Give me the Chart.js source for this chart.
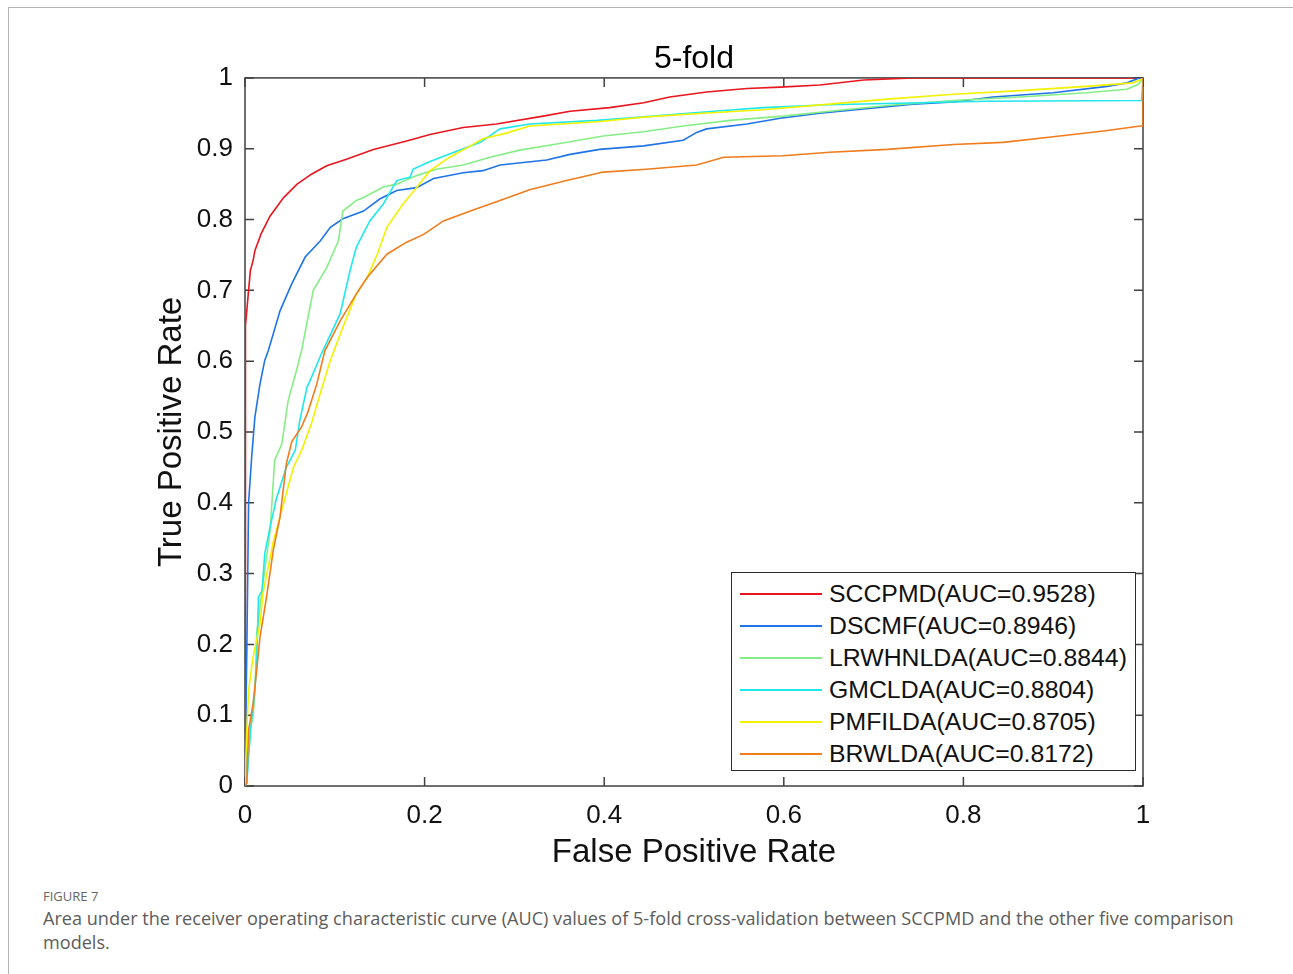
<!DOCTYPE html>
<html>
<head>
<meta charset="utf-8">
<title>5-fold ROC</title>
<script src="https://cdn.jsdelivr.net/npm/chart.js@4.4.0/dist/chart.umd.min.js"></script>
<style>
  body { margin:0; background:#fff; width:1293px; height:974px; overflow:hidden; position:relative; font-family:"Liberation Sans", Arial, sans-serif; }
  #frame { position:absolute; left:8px; top:7px; right:0; bottom:0; border-top:1px solid #b4b4b4; border-left:1px solid #b4b4b4; }
  #wrap { position:absolute; left:0; top:0; width:1293px; height:880px; }
  #legend { position:absolute; left:731px; top:572px; width:405px; height:199px; border:1px solid #2b2b2b; background:#fff; box-sizing:border-box; padding-top:5px; }
  .row { display:flex; align-items:center; height:32px; }
  .swatch { margin-left:8px; width:82px; height:2px; }
  .lab { margin-left:7px; font-size:24.8px; color:#111; white-space:nowrap; }
  #caption { position:absolute; left:43px; top:886px; width:1205px; font-family:"Open Sans", sans-serif; color:#5c5c5c; }
  #caption .fig { font-size:13px; line-height:20px; color:#666; }
  #caption .txt { font-size:18.1px; line-height:24px; }
</style>
</head>
<body>
<div id="frame"></div>
<div id="wrap"><canvas id="roc" width="1293" height="880"></canvas></div>
<div id="legend"></div>
<div id="caption">
  <div class="fig">FIGURE 7</div>
  <div class="txt">Area under the receiver operating characteristic curve (AUC) values of 5-fold cross-validation between SCCPMD and the other five comparison models.</div>
</div>
<script>
// tick labels
var xTickLabels = ['0', '0.2', '0.4', '0.6', '0.8', '1'];
var yTickLabels = ['0', '0.1', '0.2', '0.3', '0.4', '0.5', '0.6', '0.7', '0.8', '0.9', '1'];

var modelNames = ['SCCPMD(AUC=0.9528)', 'DSCMF(AUC=0.8946)', 'LRWHNLDA(AUC=0.8844)',
                  'GMCLDA(AUC=0.8804)', 'PMFILDA(AUC=0.8705)', 'BRWLDA(AUC=0.8172)'];
var modelColors = ['#e8161e', '#1f74e6', '#86ee86', '#1fe8ec', '#f2f200', '#f07c1c'];

// (false positive rate / true positive rate)
var sccpmdFpr = [0, 0, 0.001, 0.004, 0.006, 0.009, 0.011, 0.018, 0.028, 0.043, 0.058, 0.074, 0.091, 0.113, 0.143, 0.18, 0.206, 0.243, 0.28, 0.332, 0.362, 0.406, 0.444, 0.473, 0.514, 0.559, 0.596, 0.64, 0.689, 0.744, 1];
var sccpmdTpr = [0, 0.6, 0.65, 0.70, 0.728, 0.742, 0.756, 0.78, 0.805, 0.831, 0.85, 0.864, 0.876, 0.885, 0.899, 0.911, 0.92, 0.93, 0.935, 0.946, 0.953, 0.958, 0.965, 0.973, 0.98, 0.985, 0.987, 0.99, 0.997, 1.0, 1.0];

var dscmfFpr = [0, 0.001, 0.002, 0.004, 0.0074, 0.011, 0.0167, 0.022, 0.026, 0.039, 0.052, 0.067, 0.084, 0.095, 0.109, 0.132, 0.150, 0.169, 0.191, 0.210, 0.243, 0.265, 0.284, 0.336, 0.362, 0.395, 0.444, 0.488, 0.503, 0.514, 0.559, 0.596, 0.640, 0.689, 0.744, 0.789, 0.833, 0.900, 0.960, 0.982, 0.996, 1];
var dscmfTpr = [0, 0.1, 0.19, 0.40, 0.464, 0.521, 0.568, 0.601, 0.615, 0.671, 0.709, 0.747, 0.770, 0.789, 0.801, 0.812, 0.829, 0.841, 0.845, 0.858, 0.866, 0.869, 0.877, 0.884, 0.892, 0.899, 0.904, 0.912, 0.923, 0.928, 0.935, 0.943, 0.950, 0.956, 0.963, 0.966, 0.973, 0.979, 0.988, 0.993, 1.0, 1.0];

var lrwhnldaFpr = [0, 0.002, 0.0056, 0.009, 0.011, 0.013, 0.020, 0.028, 0.033, 0.041, 0.048, 0.058, 0.063, 0.076, 0.091, 0.104, 0.109, 0.124, 0.132, 0.154, 0.169, 0.191, 0.213, 0.243, 0.273, 0.306, 0.354, 0.399, 0.444, 0.488, 0.540, 0.599, 0.651, 0.715, 0.789, 0.863, 0.937, 0.982, 0.995, 1];
var lrwhnldaTpr = [0, 0.013, 0.079, 0.098, 0.131, 0.215, 0.286, 0.361, 0.460, 0.483, 0.544, 0.590, 0.615, 0.700, 0.732, 0.770, 0.812, 0.827, 0.831, 0.846, 0.850, 0.862, 0.871, 0.877, 0.888, 0.898, 0.908, 0.918, 0.924, 0.932, 0.940, 0.946, 0.953, 0.961, 0.968, 0.973, 0.979, 0.984, 0.991, 1.0];

var gmcldaFpr = [0, 0.002, 0.004, 0.0075, 0.011, 0.013, 0.015, 0.019, 0.022, 0.028, 0.035, 0.046, 0.056, 0.061, 0.069, 0.074, 0.085, 0.106, 0.117, 0.124, 0.139, 0.154, 0.169, 0.184, 0.187, 0.206, 0.243, 0.262, 0.284, 0.317, 0.392, 0.444, 0.522, 0.577, 0.651, 0.752, 0.826, 0.9985, 1];
var gmcldaTpr = [0, 0.004, 0.041, 0.098, 0.135, 0.173, 0.267, 0.276, 0.328, 0.366, 0.406, 0.450, 0.474, 0.516, 0.563, 0.577, 0.610, 0.667, 0.728, 0.761, 0.798, 0.822, 0.855, 0.860, 0.871, 0.882, 0.900, 0.909, 0.928, 0.935, 0.940, 0.945, 0.953, 0.958, 0.962, 0.965, 0.967, 0.968, 1.0];

var pmfildaFpr = [0, 0.002, 0.004, 0.009, 0.0167, 0.020, 0.0315, 0.043, 0.054, 0.063, 0.074, 0.087, 0.095, 0.109, 0.124, 0.136, 0.147, 0.158, 0.176, 0.191, 0.206, 0.228, 0.251, 0.265, 0.291, 0.317, 0.392, 0.447, 0.510, 0.577, 0.651, 0.715, 0.789, 0.863, 0.937, 0.989, 0.9985, 1];
var pmfildaTpr = [0, 0.079, 0.135, 0.182, 0.229, 0.272, 0.345, 0.399, 0.450, 0.474, 0.512, 0.568, 0.601, 0.648, 0.695, 0.718, 0.750, 0.789, 0.822, 0.845, 0.869, 0.888, 0.904, 0.914, 0.922, 0.932, 0.938, 0.945, 0.950, 0.955, 0.963, 0.970, 0.977, 0.982, 0.988, 0.993, 0.998, 1.0];

var brwldaFpr = [0, 0.002, 0.004, 0.009, 0.013, 0.0167, 0.024, 0.0315, 0.039, 0.046, 0.052, 0.063, 0.070, 0.080, 0.089, 0.106, 0.124, 0.136, 0.158, 0.180, 0.199, 0.221, 0.251, 0.280, 0.317, 0.358, 0.399, 0.447, 0.503, 0.533, 0.599, 0.651, 0.715, 0.789, 0.844, 0.900, 0.956, 0.997, 1, 1];
var brwldaTpr = [0, 0.004, 0.079, 0.116, 0.164, 0.21, 0.267, 0.333, 0.380, 0.455, 0.486, 0.507, 0.528, 0.568, 0.615, 0.657, 0.695, 0.718, 0.751, 0.768, 0.779, 0.798, 0.812, 0.825, 0.842, 0.855, 0.867, 0.871, 0.877, 0.888, 0.890, 0.895, 0.899, 0.906, 0.909, 0.917, 0.925, 0.932, 0.932, 1.0];

var fprs = [sccpmdFpr, dscmfFpr, lrwhnldaFpr, gmcldaFpr, pmfildaFpr, brwldaFpr];
var tprs = [sccpmdTpr, dscmfTpr, lrwhnldaTpr, gmcldaTpr, pmfildaTpr, brwldaTpr];

function toPoints(xs, ys){
  var pts = [];
  for (var i = 0; i < xs.length; i++){
    pts.push({x: xs[i], y: ys[i]});
  }
  return pts;
}

var datasets = [];
for (var i = 0; i < modelNames.length; i++){
  datasets.push({
    label: modelNames[i],
    data: toPoints(fprs[i], tprs[i]),
    borderColor: modelColors[i],
    backgroundColor: modelColors[i],
    borderWidth: 1.6,
    pointRadius: 0,
    showLine: true,
    tension: 0,
    order: modelNames.length - i   // later curves on top, like matlab
  });
}

// box + inward ticks on all four sides
var boxPlugin = {
  id: 'box',
  beforeDatasetsDraw: function(chart){
    var ctx = chart.ctx, a = chart.chartArea;
    var xs = chart.scales.x, ys = chart.scales.y;
    var len = 9;
    ctx.save();
    ctx.strokeStyle = '#404040';
    ctx.lineWidth = 1.5;
    ctx.strokeRect(a.left, a.top, a.right - a.left, a.bottom - a.top);
    ctx.beginPath();
    xs.ticks.forEach(function(t){
      var px = xs.getPixelForValue(t.value);
      ctx.moveTo(px, a.bottom); ctx.lineTo(px, a.bottom - len);
      ctx.moveTo(px, a.top); ctx.lineTo(px, a.top + len);
    });
    ys.ticks.forEach(function(t){
      var py = ys.getPixelForValue(t.value);
      ctx.moveTo(a.left, py); ctx.lineTo(a.left + len, py);
      ctx.moveTo(a.right, py); ctx.lineTo(a.right - len, py);
    });
    ctx.stroke();
    ctx.restore();
  }
};

var fontFam = '"Liberation Sans", Arial, sans-serif';

new Chart(document.getElementById('roc'), {
  type: 'scatter',
  data: { datasets: datasets },
  options: {
    responsive: false,
    animation: false,
    devicePixelRatio: 1,
    layout: { padding: { left: 0, right: 150, top: 0, bottom: 0 } },
    plugins: {
      legend: { display: false },
      tooltip: { enabled: false },
      title: {
        display: true,
        text: '5-fold',
        fullSize: false,
        color: '#000',
        font: { family: fontFam, size: 32, weight: 'normal' },
        padding: { top: 39.5, bottom: 0 }
      }
    },
    scales: {
      x: {
        type: 'linear', min: 0, max: 1,
        grid: { display: false, drawTicks: false },
        border: { display: false },
        ticks: {
          stepSize: 0.2, padding: 14, color: '#111', maxRotation: 0,
          font: { family: fontFam, size: 26 },
          callback: function(v, i){ return xTickLabels[i]; }
        },
        title: {
          display: true, text: 'False Positive Rate', color: '#111',
          font: { family: fontFam, size: 33 },
          padding: { top: 4, bottom: 7 }
        },
        afterFit: function(s){ s.height = 94; }
      },
      y: {
        type: 'linear', min: 0, max: 1,
        grid: { display: false, drawTicks: false },
        border: { display: false },
        ticks: {
          stepSize: 0.1, padding: 12, color: '#111',
          font: { family: fontFam, size: 26 },
          callback: function(v, i){ return yTickLabels[i]; }
        },
        title: {
          display: true, text: 'True Positive Rate', color: '#111',
          font: { family: fontFam, size: 33 },
          padding: { top: 152, bottom: 0 }
        },
        afterFit: function(s){ s.width = 245; }
      }
    }
  },
  plugins: [boxPlugin]
});

// legend box drawn as html from the same names/colours
var leg = document.getElementById('legend');
for (var k = 0; k < modelNames.length; k++){
  var row = document.createElement('div');
  row.className = 'row';
  var sw = document.createElement('span');
  sw.className = 'swatch';
  sw.style.background = modelColors[k];
  var lab = document.createElement('span');
  lab.className = 'lab';
  lab.textContent = modelNames[k];
  row.appendChild(sw);
  row.appendChild(lab);
  leg.appendChild(row);
}
</script>
</body>
</html>
